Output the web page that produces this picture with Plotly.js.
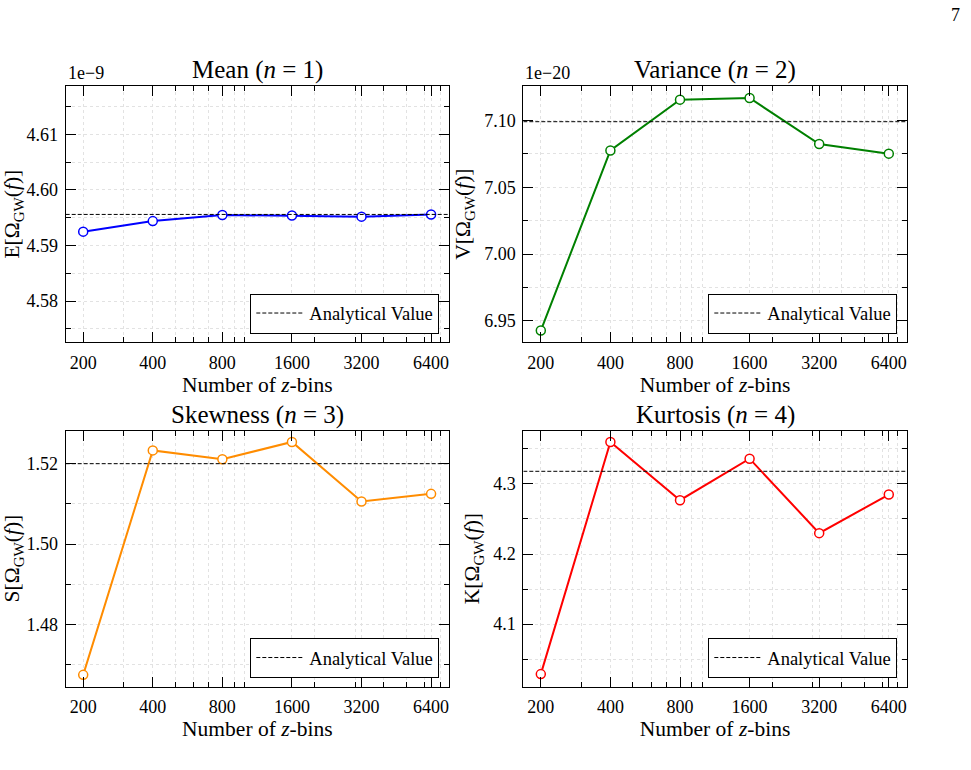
<!DOCTYPE html>
<html><head><meta charset="utf-8">
<script src="https://cdn.plot.ly/plotly-3.0.1.min.js"></script>
<style>html,body{margin:0;padding:0;background:#fff}#chart{width:971px;height:770px}</style>
</head><body><div id="chart"></div>
<script>
// ---- data ----
const zBins = [200, 400, 800, 1600, 3200, 6400];
const zBinLabels = ['200', '400', '800', '1600', '3200', '6400'];
const xMinorTicks = [300, 500, 600, 700, 900, 1000, 2000, 3000, 4000, 5000, 6000, 7000];
const xLimits = [168, 7650];

const meanValues = [4.5925, 4.5944, 4.5955, 4.5954, 4.5952, 4.5956];      // x 1e-9
const meanAnalytical = 4.5956;
const varianceValues = [6.9428, 7.0775, 7.1155, 7.1167, 7.0823, 7.0751];  // x 1e-20
const varianceAnalytical = 7.099;
const skewnessValues = [1.4675, 1.5233, 1.5211, 1.5254, 1.5106, 1.5125];
const skewnessAnalytical = 1.5200;
const kurtosisValues = [4.0288, 4.3598, 4.2768, 4.3360, 4.2298, 4.2848];
const kurtosisAnalytical = 4.318;

const panelTitles = ['Mean (<i>n</i> = 1)', 'Variance (<i>n</i> = 2)', 'Skewness (<i>n</i> = 3)', 'Kurtosis (<i>n</i> = 4)'];
const yTitles = ['E[Ω<sub>GW</sub>(<i>f</i>)]', 'V[Ω<sub>GW</sub>(<i>f</i>)]', 'S[Ω<sub>GW</sub>(<i>f</i>)]', 'K[Ω<sub>GW</sub>(<i>f</i>)]'];
const xTitle = 'Number of <i>z</i>-bins';
const legendLabel = 'Analytical Value';
const offsetLabels = ['1e\u22129', '1e\u221220', '', ''];
const yLimits = [[4.5726, 4.6187], [6.934, 7.1257], [1.4646, 1.5282], [4.0111, 4.3759]];
const yMajorSteps = [0.01, 0.05, 0.02, 0.1];
const yTickFormats = ['.2f', '.2f', '.2f', '.1f'];
const colors = ['#0000ff', '#008000', '#ff8c00', '#ff0000'];

const seriesValues = [meanValues, varianceValues, skewnessValues, kurtosisValues];
const analyticalValues = [meanAnalytical, varianceAnalytical, skewnessAnalytical, kurtosisAnalytical];

// ---- layout geometry (pixels of a 971x770 figure) ----
const W = 971, H = 770;
const FONT = 'Liberation Serif, Times New Roman, serif';
const panelsPx = [
  {l: 65.7, r: 449, t: 86, b: 342.3},
  {l: 523.3, r: 906.7, t: 86, b: 342.3},
  {l: 65.7, r: 449, t: 430.7, b: 686.5},
  {l: 523.3, r: 906.7, t: 430.7, b: 686.5}
];
const legendPx = [
  {r: 439.3, b: 333.5}, {r: 897.3, b: 333.5},
  {r: 439.3, b: 678}, {r: 897.3, b: 678}
];
const grid = '#e2e2e2';

const data = [];
const layout = {
  width: W, height: H,
  margin: {l: 0, r: 0, t: 0, b: 0},
  paper_bgcolor: '#ffffff', plot_bgcolor: '#ffffff',
  font: {family: FONT, color: '#000000', size: 18},
  annotations: [],
  showlegend: true
};

panelsPx.forEach((p, i) => {
  const k = i + 1;
  const xa = 'x' + (k === 1 ? '' : k), ya = 'y' + (k === 1 ? '' : k);
  const xKey = 'xaxis' + (k === 1 ? '' : k), yKey = 'yaxis' + (k === 1 ? '' : k);
  const lgKey = 'legend' + (k === 1 ? '' : k);

  data.push({
    type: 'scatter', mode: 'lines+markers', x: zBins, y: seriesValues[i],
    xaxis: xa, yaxis: ya, showlegend: false,
    line: {color: colors[i], width: 2},
    marker: {symbol: 'circle', size: 9, color: '#ffffff', line: {color: colors[i], width: 1.5}}
  });
  data.push({
    type: 'scatter', mode: 'lines', x: xLimits, y: [analyticalValues[i], analyticalValues[i]],
    xaxis: xa, yaxis: ya, name: legendLabel, legend: lgKey, showlegend: true,
    line: {color: '#000000', width: 1, dash: '4px,2px'}
  });

  layout[xKey] = {
    domain: [p.l / W, p.r / W], anchor: ya,
    type: 'log', range: [Math.log10(xLimits[0]), Math.log10(xLimits[1])],
    tickmode: 'array', tickvals: zBins, ticktext: zBinLabels,
    ticks: 'inside', ticklen: 10, tickwidth: 1, tickcolor: '#000',
    showline: true, linecolor: '#000', linewidth: 1, mirror: 'ticks',
    showgrid: true, gridcolor: grid, griddash: 'dot', gridwidth: 1,
    zeroline: false,
    minor: {tickmode: 'array', tickvals: xMinorTicks, ticks: 'inside', ticklen: 5, tickwidth: 1,
            tickcolor: '#000', showgrid: true, gridcolor: grid, griddash: 'dot', gridwidth: 1},
    tickfont: {family: FONT, size: 18},
    ticklabelstandoff: 4,
    title: {text: xTitle, font: {family: FONT, size: 21.5}, standoff: 2}
  };
  layout[yKey] = {
    domain: [1 - p.b / H, 1 - p.t / H], anchor: xa,
    range: yLimits[i], tick0: 0, dtick: yMajorSteps[i], tickformat: yTickFormats[i],
    ticks: 'inside', ticklen: 10, tickwidth: 1, tickcolor: '#000',
    showline: true, linecolor: '#000', linewidth: 1, mirror: 'ticks',
    showgrid: true, gridcolor: grid, griddash: 'dot', gridwidth: 1,
    zeroline: false,
    minor: {tick0: 0, dtick: yMajorSteps[i] / 2, ticks: 'inside', ticklen: 5, tickwidth: 1,
            tickcolor: '#000', showgrid: true, gridcolor: grid, griddash: 'dot', gridwidth: 1},
    tickfont: {family: FONT, size: 18},
    ticklabelstandoff: 3,
    title: {text: yTitles[i], font: {family: FONT, size: 21.5}, standoff: 7}
  };
  layout[lgKey] = {
    x: legendPx[i].r / W, xanchor: 'right', xref: 'paper',
    y: 1 - legendPx[i].b / H, yanchor: 'bottom', yref: 'paper',
    bgcolor: '#ffffff', bordercolor: '#000000', borderwidth: 1,
    itemwidth: 48,
    font: {family: FONT, size: 18.5, color: '#000'}
  };

  layout.annotations.push({
    text: panelTitles[i], xref: 'paper', yref: 'paper', showarrow: false,
    x: (p.l + p.r) / 2 / W, y: 1 - (p.t - 16) / H, xanchor: 'center', yanchor: 'middle',
    font: {family: FONT, size: 25}
  });
  if (offsetLabels[i]) {
    layout.annotations.push({
      text: offsetLabels[i], xref: 'paper', yref: 'paper', showarrow: false,
      x: (p.l) / W, y: 1 - (p.t - 1) / H, xanchor: 'left', yanchor: 'bottom',
      font: {family: FONT, size: 18}
    });
  }
});

// page number and the clipped page marks at the bottom edge
layout.annotations.push({text: '7', xref: 'paper', yref: 'paper', showarrow: false,
  x: 962 / W, y: 1 - 15 / H, xanchor: 'right', yanchor: 'middle', font: {family: FONT, size: 18}});
layout.annotations.push({text: '8', xref: 'paper', yref: 'paper', showarrow: false,
  x: 412 / W, y: 1 - 766 / H, xanchor: 'center', yanchor: 'top', font: {family: FONT, size: 13}});
layout.annotations.push({text: '15', xref: 'paper', yref: 'paper', showarrow: false,
  x: 908 / W, y: 1 - 766 / H, xanchor: 'center', yanchor: 'top', font: {family: FONT, size: 13}});

Plotly.newPlot('chart', data, layout, {displayModeBar: false, staticPlot: true});
</script></body></html>
